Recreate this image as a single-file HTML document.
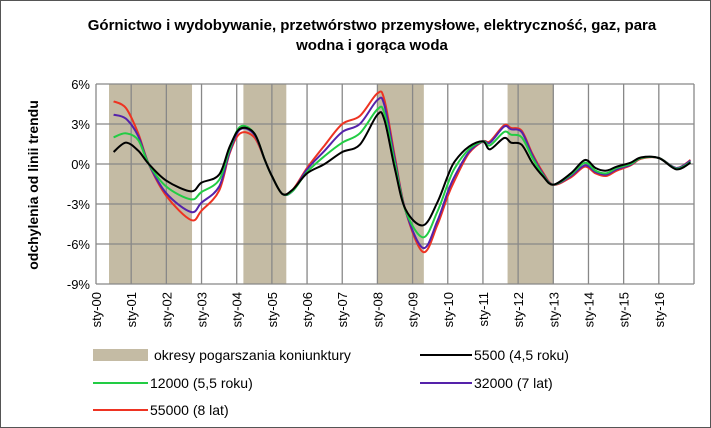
<!DOCTYPE html>
<html><head><meta charset="utf-8"><style>
html,body{margin:0;padding:0;background:#fff;}
svg{display:block;}
text{font-family:"Liberation Sans","DejaVu Sans",sans-serif;}
</style></head><body>
<svg id="chart" width="711" height="428" viewBox="0 0 711 428">
<rect x="0.5" y="0.5" width="710" height="427" fill="#fff" stroke="#555"/>
<text x="372" y="30" text-anchor="middle" font-size="15" font-weight="bold">Górnictwo i wydobywanie, przetwórstwo przemysłowe, elektryczność, gaz, para</text>
<text x="372" y="50" text-anchor="middle" font-size="15" font-weight="bold">wodna i gorąca woda</text>
<text transform="translate(38,185) rotate(-90)" text-anchor="middle" font-size="14" font-weight="bold">odchylenia od linii trendu</text>
<g id="shade"></g><g id="grid"></g><g id="lines"></g><g id="labels"></g>
<g>
<rect x="93" y="349" width="55" height="12" fill="#c4bba4"/>
<text x="154" y="360" font-size="14">okresy pogarszania koniunktury</text>
<line x1="420" y1="355" x2="472" y2="355" stroke="#000" stroke-width="2"/>
<text x="474" y="360" font-size="14">5500 (4,5 roku)</text>
<line x1="93" y1="383" x2="148" y2="383" stroke="#22cc44" stroke-width="2"/>
<text x="150" y="388" font-size="14">12000 (5,5 roku)</text>
<line x1="420" y1="383" x2="472" y2="383" stroke="#5522aa" stroke-width="2"/>
<text x="474" y="388" font-size="14">32000 (7 lat)</text>
<line x1="93" y1="410" x2="148" y2="410" stroke="#ee3322" stroke-width="2"/>
<text x="150" y="415" font-size="14">55000 (8 lat)</text>
</g>
</svg>
<script>
const times=[0.5,0.85,1.2,1.5,2,2.7,3,3.5,3.8,4.1,4.5,4.8,5,5.3,5.6,6,6.5,7,7.5,8,8.2,8.5,8.8,9.3,9.7,10,10.2,10.6,11,11.2,11.6,11.8,12.1,12.4,12.7,13,13.5,13.9,14.2,14.5,14.8,15.2,15.5,16,16.5,16.9];
const s5500=[0.9,1.6,1.0,0,-1.25,-2.05,-1.4,-0.8,1.3,2.65,2.3,0.3,-0.9,-2.25,-1.9,-0.7,0,0.9,1.45,3.7,3.3,-0.4,-3.4,-4.6,-2.9,-0.9,0.2,1.3,1.7,1.1,1.95,1.6,1.45,0.1,-0.9,-1.55,-0.7,0.3,-0.3,-0.5,-0.2,0.1,0.5,0.45,-0.4,0.1];
const s12000=[2.0,2.3,1.8,0,-1.7,-2.65,-2.1,-1.2,1.1,2.8,2.3,0.3,-0.9,-2.25,-2.0,-0.6,0.6,1.6,2.3,4.1,3.8,0,-3.5,-5.5,-3.6,-1.5,-0.3,1.1,1.7,1.4,2.4,2.2,2.0,0.5,-0.8,-1.55,-0.8,0.1,-0.5,-0.7,-0.3,0,0.45,0.45,-0.35,0.15];
const s32000=[3.7,3.4,2.1,0,-2.2,-3.6,-2.9,-1.7,0.9,2.6,2.2,0.3,-0.9,-2.25,-2.0,-0.4,1.0,2.4,3.0,4.8,4.4,0.3,-3.5,-6.3,-4.3,-2.1,-0.9,0.9,1.7,1.6,2.8,2.6,2.4,0.7,-0.7,-1.55,-0.9,-0.1,-0.6,-0.8,-0.4,-0.05,0.45,0.45,-0.3,0.25];
const s55000=[4.7,4.2,2.3,0,-2.4,-4.2,-3.5,-2.0,0.8,2.3,2.0,0.3,-0.9,-2.25,-1.9,-0.3,1.4,3.0,3.6,5.3,4.8,0.5,-3.5,-6.6,-4.6,-2.4,-1.2,0.8,1.7,1.7,2.9,2.7,2.5,0.8,-0.6,-1.55,-1.0,-0.2,-0.7,-0.9,-0.5,-0.1,0.4,0.45,-0.3,0.3];
const recessions=[[0.37,2.73],[4.19,5.41],[8.0,9.32],[11.7,13.0]];
const yTicks=[6,3,0,-3,-6,-9];
const yTickLabels=["6%","3%","0%","-3%","-6%","-9%"];
const xTickLabels=["sty-00","sty-01","sty-02","sty-03","sty-04","sty-05","sty-06","sty-07","sty-08","sty-09","sty-10","sty-11","sty-12","sty-13","sty-14","sty-15","sty-16"];

const X0=96,X1=694,Y0=84,Y1=284;
const x=t=>X0+(t/17)*(X1-X0);
const y=v=>Y0+(6-v)/15*(Y1-Y0);
const NS="http://www.w3.org/2000/svg";
function mk(tag,attrs,parent){const e=document.createElementNS(NS,tag);for(const k in attrs)e.setAttribute(k,attrs[k]);parent.appendChild(e);return e;}
const gS=document.getElementById('shade'),gG=document.getElementById('grid'),gL=document.getElementById('lines'),gT=document.getElementById('labels');
recessions.forEach((r,i)=>{const e=mk('rect',{x:x(r[0]),y:Y0,width:x(r[1])-x(r[0]),height:Y1-Y0,fill:'#c4bba4'},gS);

});
yTicks.forEach((v,i)=>{const l=mk('line',{x1:X0,x2:X1,y1:y(v),y2:y(v),stroke:'#888','stroke-width':1.3},gG);


const t=mk('text',{x:X0-6,y:y(v)+5,'text-anchor':'end','font-size':13},gT);t.textContent=yTickLabels[i];

});
for(let i=0;i<=17;i++){const l=mk('line',{x1:x(i),x2:x(i),y1:Y0,y2:Y1,stroke:'#888','stroke-width':1.3},gG);

}
xTickLabels.forEach((s,i)=>{const t=mk('text',{transform:`translate(${x(i)+5},292) rotate(-90)`,'text-anchor':'end','font-size':13},gT);t.textContent=s;

});
function path(vals){const p=times.map((t,i)=>[x(t),y(vals[i])]);let d=`M${p[0][0]},${p[0][1]}`;
for(let i=0;i<p.length-1;i++){const a=p[i-1]||p[i],b=p[i],c=p[i+1],e=p[i+2]||c;
d+=` C${b[0]+(c[0]-a[0])/6},${b[1]+(c[1]-a[1])/6} ${c[0]-(e[0]-b[0])/6},${c[1]-(e[1]-b[1])/6} ${c[0]},${c[1]}`;}return d;}
[[s55000,'#ee3322','series-55000'],[s32000,'#5522aa','series-32000'],[s12000,'#22cc44','series-12000'],[s5500,'#000','series-5500']].forEach(s=>{
const e=mk('path',{d:path(s[0]),fill:'none',stroke:s[1],'stroke-width':2},gL);

});
</script>
</body></html>
